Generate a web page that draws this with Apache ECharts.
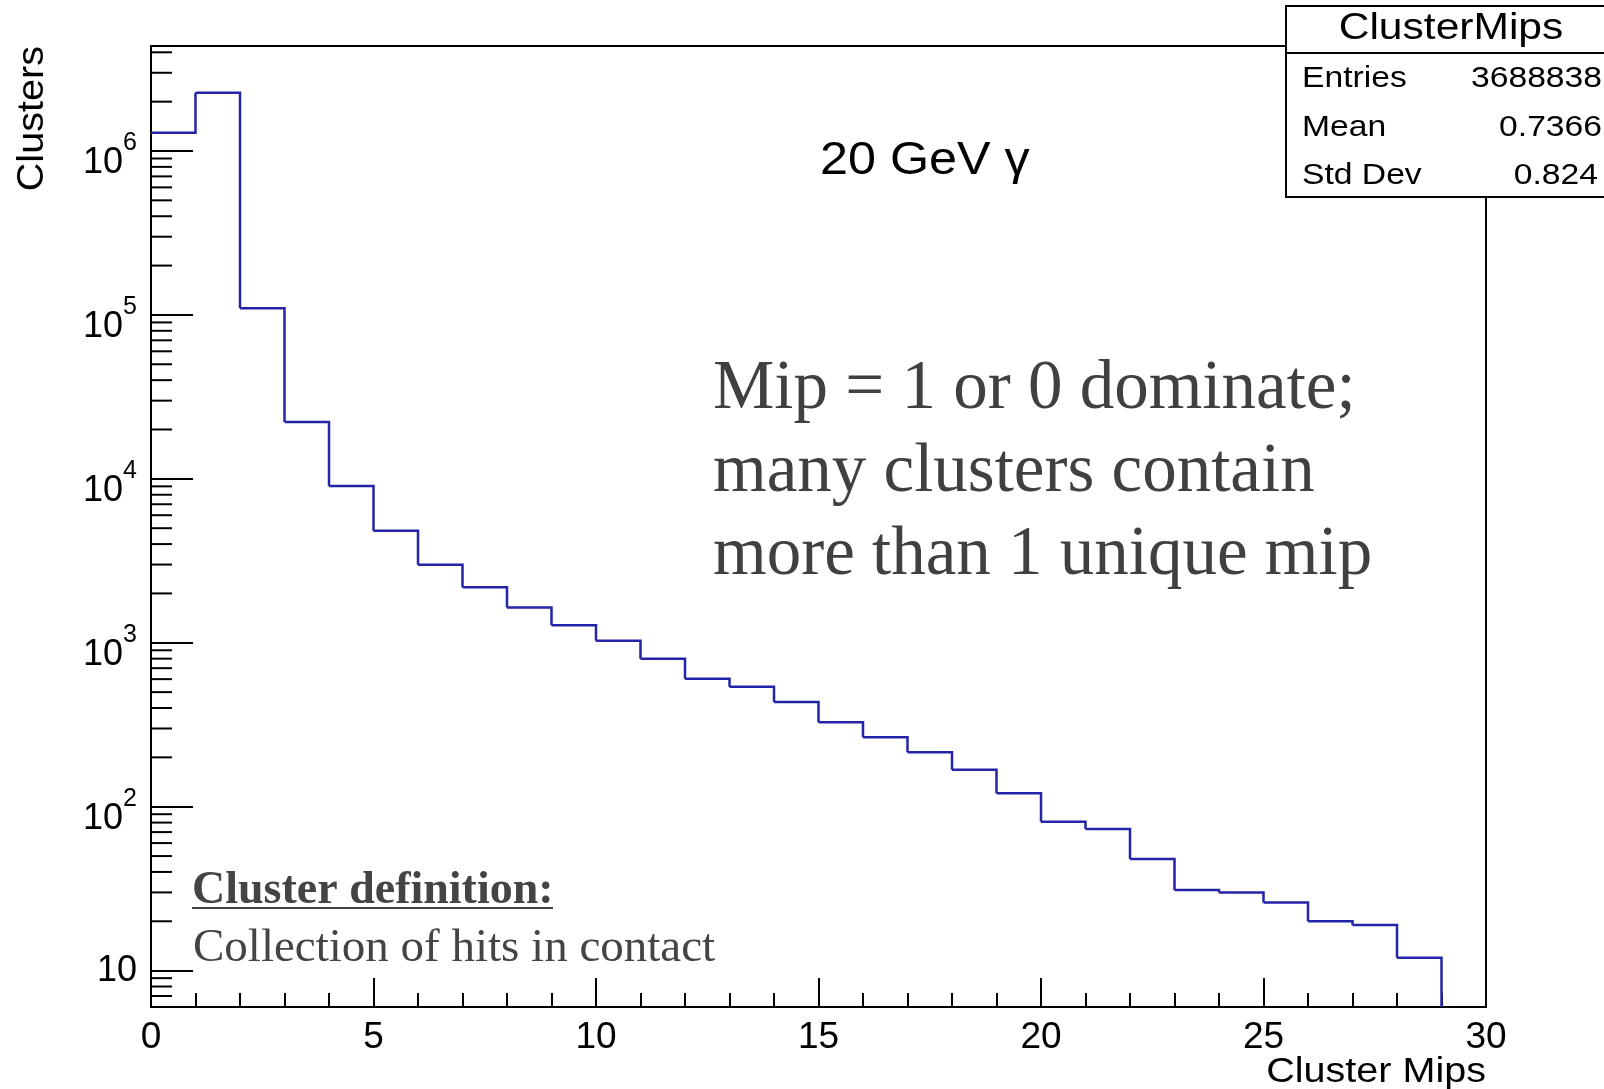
<!DOCTYPE html>
<html><head><meta charset="utf-8">
<script src="https://cdn.jsdelivr.net/npm/echarts@6/dist/echarts.min.js"></script>
<style>html,body{margin:0;padding:0;background:#fff}#c{width:1604px;height:1089px}</style>
</head><body><div id="c"></div>
<script>
// ---- data ----
const binLow = [0,1,2,3,4,5,6,7,8,9,10,11,12,13,14,15,16,17,18,19,20,21,22,23,24,25,26,27,28,29];
const counts = [1290000,2270000,110000,22200,9060,4820,2990,2180,1640,1280,1030,798,603,539,435,328,265,215,168,121,81,73,48,31,30,26,20,19,12,0];
const xTicks = [0,5,10,15,20,25,30];
const yDecadeExps = [1,2,3,4,5,6];
const yMinorMult = [2,3,4,5,6,7,8,9];
const statsTitle = 'ClusterMips';
const statsLabels = ['Entries','Mean','Std Dev'];
const statsValues = ['3688838','0.7366','0.824'];
const xTitle = 'Cluster Mips';
const yTitle = 'Clusters';
const energyLabel = '20 GeV \u03b3';
const noteLines = ['Mip = 1 or 0 dominate;','many clusters contain','more than 1 unique mip'];
const defHead = 'Cluster definition:';
const defBody = 'Collection of hits in contact';

const Y_MIN = 6, Y_MAX = 4.37e6;
const sans = '"Liberation Sans", Arial, sans-serif';
const serif = '"Liberation Serif", "Times New Roman", serif';

// minor tick values (axis decoration)
const yMinor = [];
[0].concat(yDecadeExps).forEach(e => yMinorMult.forEach(m => {
  const v = m * Math.pow(10, e);
  if (v > Y_MIN && v < Y_MAX) yMinor.push(v);
}));

const chart = echarts.init(document.getElementById('c'), null, {renderer: 'canvas'});

const histData = binLow.map((x, i) => [x, counts[i]]).filter(d => d[1] > 0);

chart.setOption({
  animation: false,
  backgroundColor: '#fff',
  grid: {left: 151, right: 118, top: 46, bottom: 82, show: true, borderColor: '#000', borderWidth: 2, backgroundColor: 'transparent'},
  xAxis: {
    type: 'value', min: 0, max: 30, interval: 5,
    axisLine: {show: true, onZero: false, lineStyle: {color: '#000', width: 2}},
    axisTick: {show: true, inside: true, length: 29, lineStyle: {color: '#000', width: 2}},
    minorTick: {show: true, splitNumber: 5, length: 14, lineStyle: {color: '#000', width: 2}},
    axisLabel: {color: '#000', fontSize: 37, fontFamily: sans, margin: 12,
      formatter: v => (xTicks.indexOf(v) >= 0 ? String(v) : '')},
    splitLine: {show: false}, minorSplitLine: {show: false}
  },
  yAxis: {
    type: 'log', logBase: 10, min: Y_MIN, max: Y_MAX,
    axisLine: {show: true, lineStyle: {color: '#000', width: 2}},
    axisTick: {show: true, inside: true, length: 42, lineStyle: {color: '#000', width: 2}},
    axisLabel: {
      margin: 14, color: '#000',
      formatter: function (v) {
        const e = Math.log10(v);
        const r = Math.round(e);
        if (Math.abs(e - r) > 1e-6 || yDecadeExps.indexOf(r) < 0) return '';
        if (r === 1) return '{p|10}';
        return '{b|10}{e|' + r + '}';
      },
      rich: {
        p: {fontSize: 36, fontFamily: sans, color: '#000'},
        b: {fontSize: 36, fontFamily: sans, color: '#000', verticalAlign: 'bottom'},
        e: {fontSize: 25, fontFamily: sans, color: '#000', verticalAlign: 'bottom', padding: [10, 0, 26, 0]}
      }
    },
    splitLine: {show: false}
  },
  series: [
    {
      type: 'custom', name: 'ClusterMips', silent: true, clip: false,
      data: histData,
      renderItem: function (params, api) {
        const i = api.value(0);
        const c = api.value(1);
        const cs = params.coordSys;
        const bottom = cs.y + cs.height;
        const yOf = v => (v > 0 ? api.coord([0, v])[1] : bottom);
        const xL = api.coord([i, c])[0];
        const xR = api.coord([i + 1, c])[0];
        const y = yOf(c);
        const next = (i + 1 < counts.length) ? counts[i + 1] : 0;
        const yN = yOf(next);
        return {type: 'polyline', shape: {points: [[xL, y], [xR, y], [xR, yN]]},
          style: {stroke: '#2424a8', lineWidth: 2.5, fill: null}};
      }
    },
    {
      type: 'custom', name: 'yMinorTicks', silent: true, clip: false,
      data: yMinor.map(v => [0, v]),
      renderItem: function (params, api) {
        const p = api.coord([0, api.value(1)]);
        return {type: 'line', shape: {x1: p[0], y1: p[1], x2: p[0] + 21, y2: p[1]},
          style: {stroke: '#000', lineWidth: 2}};
      }
    }
  ],
  graphic: [
    // axis titles
    {type: 'text', x: 33, y: 46, rotation: Math.PI / 2, scaleX: 1.1, z: 50,
      style: {text: yTitle, font: '36px ' + sans, fill: '#000', align: 'right', verticalAlign: 'middle'}},
    {type: 'text', x: 1486, y: 1072, scaleX: 1.13, z: 50,
      style: {text: xTitle, font: '35px ' + sans, fill: '#000', align: 'right', verticalAlign: 'middle'}},
    // energy label
    {type: 'text', x: 820, y: 161, scaleX: 1.07, z: 50,
      style: {text: energyLabel, font: '47px ' + sans, fill: '#000', align: 'left', verticalAlign: 'middle'}},
    // annotation
    {type: 'text', x: 713, y: 348, z: 50,
      style: {text: noteLines.join('\n'), font: '69px ' + serif, lineHeight: 83, fill: '#404040', align: 'left', verticalAlign: 'top'}},
    {type: 'text', x: 192, y: 891, z: 50,
      style: {text: defHead, font: 'bold 46px ' + serif, fill: '#444', align: 'left', verticalAlign: 'middle'}},
    {type: 'line', z: 50, shape: {x1: 192, y1: 908, x2: 553, y2: 908}, style: {stroke: '#444', lineWidth: 2}},
    {type: 'text', x: 193, y: 949, z: 50,
      style: {text: defBody, font: '47px ' + serif, fill: '#444', align: 'left', verticalAlign: 'middle'}},
    // stats box
    {type: 'rect', z: 60, shape: {x: 1286, y: 6, width: 340, height: 191},
      style: {fill: '#fff', stroke: '#000', lineWidth: 2}},
    {type: 'line', z: 61, shape: {x1: 1286, y1: 53, x2: 1626, y2: 53}, style: {stroke: '#000', lineWidth: 2}},
    {type: 'text', z: 62, x: 1451, y: 29, scaleX: 1.15,
      style: {text: statsTitle, font: '37px ' + sans, fill: '#000', align: 'center', verticalAlign: 'middle'}},
    {type: 'text', z: 62, x: 1302, y: 79, scaleX: 1.16,
      style: {text: statsLabels[0], font: '29px ' + sans, fill: '#000', align: 'left', verticalAlign: 'middle'}},
    {type: 'text', z: 62, x: 1302, y: 128, scaleX: 1.16,
      style: {text: statsLabels[1], font: '29px ' + sans, fill: '#000', align: 'left', verticalAlign: 'middle'}},
    {type: 'text', z: 62, x: 1302, y: 176, scaleX: 1.16,
      style: {text: statsLabels[2], font: '29px ' + sans, fill: '#000', align: 'left', verticalAlign: 'middle'}},
    {type: 'text', z: 62, x: 1602, y: 79, scaleX: 1.16,
      style: {text: statsValues[0], font: '29px ' + sans, fill: '#000', align: 'right', verticalAlign: 'middle'}},
    {type: 'text', z: 62, x: 1602, y: 128, scaleX: 1.16,
      style: {text: statsValues[1], font: '29px ' + sans, fill: '#000', align: 'right', verticalAlign: 'middle'}},
    {type: 'text', z: 62, x: 1598, y: 176, scaleX: 1.16,
      style: {text: statsValues[2], font: '29px ' + sans, fill: '#000', align: 'right', verticalAlign: 'middle'}}
  ]
});
</script>
</body></html>
